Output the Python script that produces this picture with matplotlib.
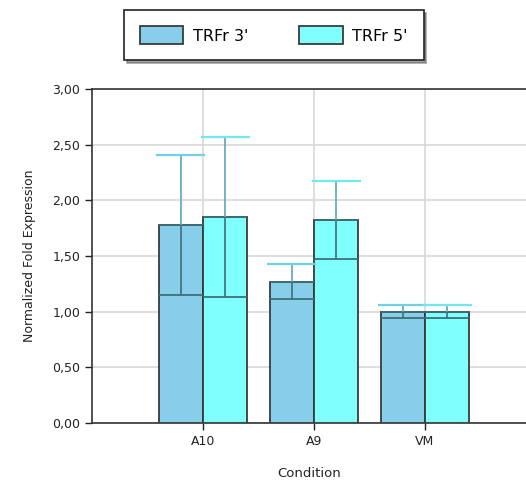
import matplotlib.pyplot as plt
import numpy as np

categories = ['A10', 'A9', 'VM']
series = ["TRFr 3'", "TRFr 5'"]
values_3 = [1.78, 1.27, 1.00]
errors_3 = [0.63, 0.16, 0.06]
values_5 = [1.85, 1.82, 1.00]
errors_5 = [0.72, 0.35, 0.06]
yticks = [0.0, 0.5, 1.0, 1.5, 2.0, 2.5, 3.0]

plt.rcParams['font.family'] = ['DejaVu Sans']

fig = plt.figure(figsize=(5.26, 4.84), dpi=100)
ax = fig.add_axes([92 / 526, 1 - 423 / 484, 1 - 92 / 526, (423 - 89) / 484])

x = np.arange(len(categories))
w = 0.4
colors = ['#87CEEB', '#80FFFF']
cap_colors = ['#6fd0e8', '#6fe8f0']

for i, (vals, errs) in enumerate([(values_3, errors_3), (values_5, errors_5)]):
    pos = x + (i - 0.5) * w
    ax.bar(pos, vals, width=w, color=colors[i], edgecolor='#3a3a3a',
           linewidth=1.3, zorder=3, label=series[i])
    # lower half of error bar (inside the bar) in a dark tone
    ax.errorbar(pos, vals, yerr=[errs, [0] * len(errs)], fmt='none',
                ecolor='#3f6f78', elinewidth=1.2, capsize=16, capthick=1.3,
                zorder=4)
    # upper half with light cyan cap
    ax.errorbar(pos, vals, yerr=[[0] * len(errs), errs], fmt='none',
                ecolor='#5aa8b8', elinewidth=1.2, capsize=0, zorder=4)
    ax.hlines(np.array(vals) + np.array(errs), pos - 0.22, pos + 0.22,
              colors=cap_colors[i], linewidth=1.6, zorder=5)

ax.set_xlim(-1, 2.91)
ax.set_ylim(0, 3.0)
ax.set_xticks(x)
ax.set_xticklabels(categories, fontsize=9, color='#222222')
ax.set_yticks(yticks)
ax.set_yticklabels([f'{t:.2f}'.replace('.', ',') for t in yticks],
                   fontsize=9, color='#222222')
ax.grid(True, color='#d8d8d8', linewidth=1.2, zorder=0)
ax.tick_params(direction='out', length=5, width=1, color='#222222')

for s in ['left', 'bottom', 'top']:
    ax.spines[s].set_color('#333333')
    ax.spines[s].set_linewidth(1.2)
ax.spines['right'].set_visible(False)

ax.set_xlabel('Condition', fontsize=9.5, color='#222222', labelpad=14)
ax.set_ylabel('Normalized Fold Expression', fontsize=9, color='#222222',
              labelpad=12)

leg = fig.legend(loc='upper center', bbox_to_anchor=(274 / 526, 1 - 10 / 484),
                 ncol=2, fontsize=11.5, frameon=True, fancybox=False,
                 shadow=True, edgecolor='#222222', handlelength=2.7,
                 handleheight=1.4, columnspacing=3.2, borderpad=1.0,
                 handletextpad=0.6, borderaxespad=0)
leg.get_frame().set_linewidth(1.2)

fig.savefig('out.png', dpi=100)
